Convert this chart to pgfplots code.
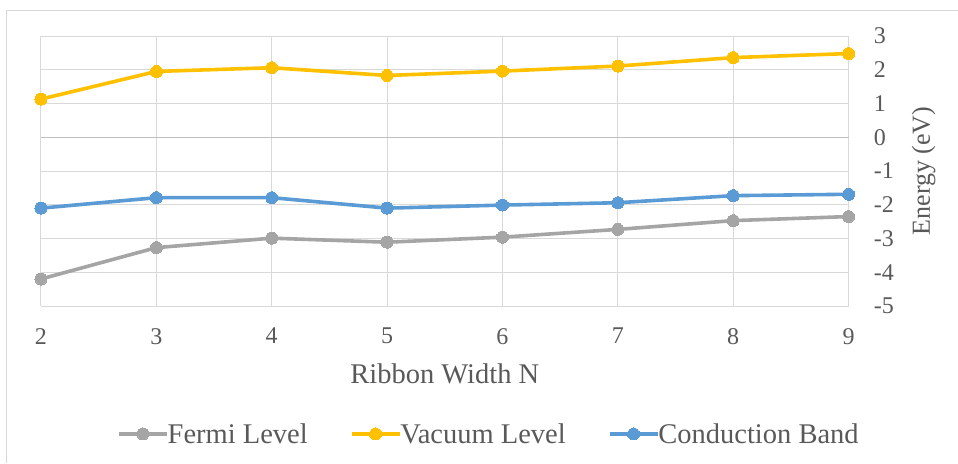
\documentclass[border=0pt]{standalone}
\usepackage{fontspec}
\setmainfont{Liberation Serif}
\usepackage{pgfplots}
\pgfplotsset{compat=1.18}
\definecolor{fermi}{HTML}{A5A5A5}
\definecolor{vac}{HTML}{FFC000}
\definecolor{cond}{HTML}{5B9BD5}
\definecolor{txt}{HTML}{595959}
\definecolor{gridc}{HTML}{D9D9D9}
\definecolor{zeroc}{HTML}{BFBFBF}
\begin{document}
\begin{tikzpicture}
\path[use as bounding box] (-41pt,-157pt) rectangle (917pt,306pt);
\draw[gridc, line width=1pt] (-34pt,-157pt) -- (-34pt,295pt) -- (917pt,295pt);
\begin{axis}[
  scale only axis,
  width=807.6pt, height=270pt,
  xmin=2, xmax=9, ymin=-5, ymax=3,
  enlargelimits=false,
  axis line style={draw=none},
  xtick={2,3,4,5,6,7,8,9},
  ytick={-5,-4,-3,-2,-1,0,1,2,3},
  grid=major,
  grid style={gridc, line width=1pt},
  extra y ticks={0},
  extra y tick labels={},
  extra y tick style={grid style={zeroc, line width=1.2pt}},
  major tick length=0pt,
  /pgf/number format/assume math mode=true,
  xticklabel style={font=\fontsize{24}{28}\selectfont, text=txt, anchor=north, inner sep=0pt, yshift=-22pt},
  yticklabel pos=right,
  yticklabel style={font=\fontsize{24}{28}\selectfont, text=txt, anchor=west, inner sep=0pt, xshift=25pt},
  xlabel={Ribbon Width N},
  every axis x label/.style={at={(rel axis cs:0.5,0)}, anchor=center, yshift=-68pt, font=\fontsize{28.5}{33}\selectfont, text=txt},
  ylabel={Energy (eV)},
  every axis y label/.style={at={(rel axis cs:1,0.5)}, xshift=75pt, anchor=center, rotate=90, font=\fontsize{26}{30}\selectfont, text=txt},
  legend columns=3,
  legend style={at={(0.094,-0.474)}, anchor=west, draw=none, fill=none, inner sep=0pt,
    font=\fontsize{28.5}{33}\selectfont, text=txt,
    /tikz/every even column/.append style={column sep=40pt},
    /tikz/every odd column/.append style={column sep=-3pt}},
  legend image code/.code={\draw[mark repeat=2,mark phase=2,#1,mark size=6pt] plot coordinates {(0pt,0pt) (24pt,0pt) (48pt,0pt)};},
  every axis plot/.append style={line width=3.6pt, mark=*, mark size=6pt},
]
\addplot[fermi, mark options={fill=fermi, draw=fermi, line width=0pt}] coordinates {
(2,-4.20) (3,-3.27) (4,-2.99) (5,-3.11) (6,-2.96) (7,-2.73) (8,-2.47) (9,-2.35)};
\addlegendentry{Fermi Level}
\addplot[vac, mark options={fill=vac, draw=vac, line width=0pt}] coordinates {
(2,1.13) (3,1.95) (4,2.06) (5,1.83) (6,1.96) (7,2.11) (8,2.36) (9,2.48)};
\addlegendentry{Vacuum Level}
\addplot[cond, mark options={fill=cond, draw=cond, line width=0pt}] coordinates {
(2,-2.10) (3,-1.79) (4,-1.79) (5,-2.10) (6,-2.01) (7,-1.94) (8,-1.73) (9,-1.69)};
\addlegendentry{Conduction Band}
\end{axis}
\end{tikzpicture}
\end{document}
